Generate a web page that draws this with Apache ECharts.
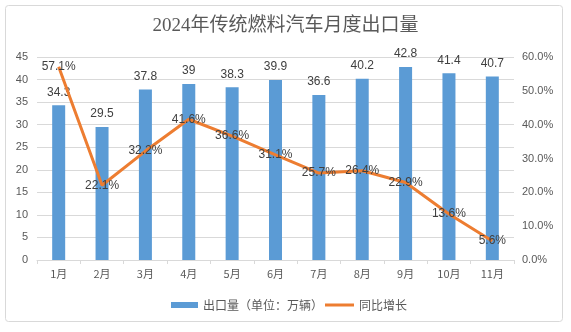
<!DOCTYPE html>
<html>
<head>
<meta charset="utf-8">
<script src="https://cdn.jsdelivr.net/npm/echarts@6/dist/echarts.min.js"></script>
<style>
  html, body { margin: 0; padding: 0; background: #fff; }
  #chart { width: 571px; height: 332px; }
</style>
</head>
<body>
<div id="chart"></div>
<script>
// Monthly export volume of conventional-fuel vehicles, 2024
const months = ['1月', '2月', '3月', '4月', '5月', '6月', '7月', '8月', '9月', '10月', '11月'];
const exportVolume = [34.3, 29.5, 37.8, 39, 38.3, 39.9, 36.6, 40.2, 42.8, 41.4, 40.7];
const yoyGrowth = [57.1, 22.1, 32.2, 41.6, 36.6, 31.1, 25.7, 26.4, 22.9, 13.6, 5.6];
const leftTicks = { min: 0, max: 45, interval: 5 };
const rightTicks = { min: 0, max: 60, interval: 10 };

const textColor = '#595959';
const labelColor = '#404040';
const gridColor = '#D9D9D9';
const cjk = '"Microsoft YaHei", "Noto Sans CJK SC", sans-serif';

const chart = echarts.init(document.getElementById('chart'));
chart.setOption({
  animation: false,
  backgroundColor: '#fff',
  title: {
    text: '2024年传统燃料汽车月度出口量',
    left: 'center',
    top: 12,
    textStyle: {
      fontFamily: '"Liberation Serif", "Noto Sans CJK SC", serif',
      fontSize: 19,
      fontWeight: 'normal',
      color: textColor
    }
  },
  graphic: [{
    type: 'rect',
    shape: { x: 5.5, y: 5.5, width: 557, height: 316, r: 3 },
    style: { fill: 'none', stroke: gridColor, lineWidth: 1 },
    silent: true,
    z: -1
  }],
  legend: [{
    data: [{ name: '出口量（单位：万辆）', icon: 'rect' }],
    left: 166,
    top: 294,
    itemWidth: 27,
    itemHeight: 6,
    itemGap: 4,
    textStyle: { color: textColor, fontSize: 12, fontFamily: cjk }
  }, {
    data: [{ name: '同比增长', icon: 'rect' }],
    left: 320,
    top: 294,
    itemWidth: 29,
    itemHeight: 3,
    itemGap: 4,
    textStyle: { color: textColor, fontSize: 12, fontFamily: cjk }
  }],
  grid: { left: 37, right: 57, top: 57, bottom: 72 },
  xAxis: {
    type: 'category',
    data: months,
    axisLine: { lineStyle: { color: gridColor } },
    axisTick: { show: true, length: 4, lineStyle: { color: gridColor } },
    axisLabel: { color: textColor, fontSize: 11, fontFamily: cjk, margin: 8 }
  },
  yAxis: [{
    type: 'value',
    min: leftTicks.min, max: leftTicks.max, interval: leftTicks.interval,
    axisLine: { show: false },
    axisTick: { show: false },
    splitLine: { lineStyle: { color: gridColor } },
    axisLabel: { color: textColor, fontSize: 11, margin: 9 }
  }, {
    type: 'value',
    min: rightTicks.min, max: rightTicks.max, interval: rightTicks.interval,
    axisLine: { show: false },
    axisTick: { show: false },
    splitLine: { show: false },
    axisLabel: {
      color: textColor, fontSize: 11, margin: 8,
      formatter: v => v.toFixed(1) + '%'
    }
  }],
  series: [{
    name: '出口量（单位：万辆）',
    type: 'bar',
    data: exportVolume,
    barWidth: 13,
    itemStyle: { color: '#5B9BD5' },
    label: {
      show: true,
      position: 'top',
      distance: 7,
      color: labelColor,
      fontSize: 12
    }
  }, {
    name: '同比增长',
    type: 'line',
    yAxisIndex: 1,
    data: yoyGrowth,
    symbol: 'circle',
    symbolSize: 0.1,
    showSymbol: true,
    lineStyle: { color: '#ED7D31', width: 3 },
    itemStyle: { color: '#ED7D31' },
    label: {
      show: true,
      position: 'inside',
      color: labelColor,
      fontSize: 12,
      formatter: p => p.value.toFixed(1) + '%'
    },
    z: 3
  }]
});
</script>
</body>
</html>
